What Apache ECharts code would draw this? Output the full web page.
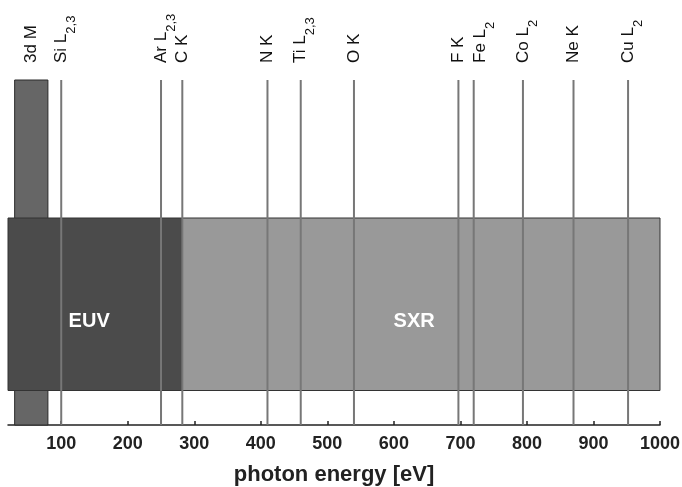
<!DOCTYPE html>
<html>
<head>
<meta charset="utf-8">
<script src="https://cdn.jsdelivr.net/npm/echarts@6/dist/echarts.min.js"></script>
<style>
html,body{margin:0;padding:0;background:#fff;}
#chart{width:682px;height:487px;}
</style>
</head>
<body>
<div id="chart"></div>
<script>
// ---- data ----
const energyMin = 20;
const energyMax = 1000;
const tickValues = [100, 200, 300, 400, 500, 600, 700, 800, 900, 1000];

const edgeNames    = ['Si L', 'Ar L', 'C K', 'N K', 'Ti L', 'O K', 'F K', 'Fe L', 'Co L', 'Ne K', 'Cu L'];
const edgeSubs     = ['2,3',  '2,3',  '',    '',    '2,3',  '',    '',    '2',    '2',    '',     '2'];
const edgeEnergies = [100,    250,    282,   410,   460,    540,   697,   720,    794,    870,    952];

const bandName  = '3d M';
const bandStart = 30;
const bandEnd   = 80;

const regionNames  = ['EUV', 'SXR'];
const regionStarts = [20, 282];
const regionEnds   = [282, 1000];

// ---- styles / layout ----
const FONT = "'Liberation Sans', Arial, Helvetica, sans-serif";
const LINE_TOP = 100, LINE_BOTTOM = 0;
const BOX_TOP = 60, BOX_BOTTOM = 10, REGION_TEXT_Y = 30;
const regionColors = ['#4b4b4b', '#999999'];
const regionTextShift = [-6, -7];
const labelNudge = { 'Fe L': 7 };

const richStyles = {
  a: { fontSize: 17, fontFamily: FONT, fill: '#111', lineHeight: 17, verticalAlign: 'top' },
  s: { fontSize: 13, fontFamily: FONT, fill: '#111', lineHeight: 13, verticalAlign: 'top', padding: [12, 0, 0, 0] }
};

function labelText(name, sub) {
  return sub ? '{a|' + name + '}{s|' + sub + '}' : '{a|' + name + '}';
}

const chart = echarts.init(document.getElementById('chart'));

const option = {
  animation: false,
  grid: { left: 8, right: 22, top: 80, bottom: 62, outerBoundsMode: 'none', containLabel: false },
  xAxis: {
    type: 'value',
    min: energyMin,
    max: energyMax,
    name: 'photon energy [eV]',
    nameLocation: 'middle',
    nameGap: 39,
    nameTextStyle: { fontFamily: FONT, fontWeight: 'bold', fontSize: 22, color: '#222' },
    axisLine: { show: true, lineStyle: { color: '#222', width: 1.5 } },
    axisTick: { show: true, inside: true, length: 4, customValues: tickValues, lineStyle: { color: '#222', width: 1.5 } },
    axisLabel: {
      customValues: tickValues, margin: 10, fontFamily: FONT, fontWeight: 'bold', fontSize: 18, color: '#222',
      formatter: function (v) { return String(v); }
    },
    splitLine: { show: false }
  },
  yAxis: {
    type: 'value', min: 0, max: 100, show: false
  },
  series: [
    {
      // 3d M band
      type: 'custom',
      data: [[bandStart, bandEnd]],
      renderItem: function (params, api) {
        const p0 = api.coord([api.value(0), LINE_TOP]);
        const p1 = api.coord([api.value(1), LINE_BOTTOM]);
        const pc = api.coord([(api.value(0) + api.value(1)) / 2, LINE_TOP]);
        return {
          type: 'group',
          children: [
            {
              type: 'rect',
              shape: { x: p0[0], y: p0[1], width: p1[0] - p0[0], height: p1[1] - p0[1] },
              style: { fill: '#666666', stroke: '#2a2a2a', lineWidth: 1 }
            },
            {
              type: 'text',
              x: pc[0], y: pc[1] - 17,
              rotation: Math.PI / 2,
              style: { text: labelText(bandName, ''), rich: richStyles, align: 'left', verticalAlign: 'middle' }
            }
          ]
        };
      }
    },
    {
      // EUV / SXR regions
      type: 'custom',
      data: regionStarts.map((s, i) => [s, regionEnds[i], i]),
      renderItem: function (params, api) {
        const i = api.value(2);
        const s = api.value(0), e = api.value(1);
        const p0 = api.coord([s, BOX_TOP]);
        const p1 = api.coord([e, BOX_BOTTOM]);
        const pc = api.coord([(s + e) / 2, REGION_TEXT_Y]);
        return {
          type: 'group',
          children: [
            {
              type: 'rect',
              shape: { x: p0[0], y: p0[1], width: p1[0] - p0[0], height: p1[1] - p0[1] },
              style: { fill: regionColors[i], stroke: '#333', lineWidth: 1 }
            },
            {
              type: 'text',
              x: pc[0] + regionTextShift[i], y: pc[1],
              style: {
                text: regionNames[i], fill: '#fff', fontFamily: FONT, fontWeight: 'bold', fontSize: 20,
                align: 'center', verticalAlign: 'middle'
              }
            }
          ]
        };
      }
    },
    {
      // edge lines
      type: 'custom',
      data: edgeEnergies.map((e, i) => [e, i]),
      renderItem: function (params, api) {
        const e = api.value(0);
        const pt = api.coord([e, LINE_TOP]);
        const pb = api.coord([e, LINE_BOTTOM]);
        return {
          type: 'line',
          shape: { x1: pt[0], y1: pt[1], x2: pb[0], y2: pb[1] },
          style: { stroke: '#777777', lineWidth: 2 }
        };
      }
    },
    {
      // edge labels
      type: 'custom',
      data: edgeEnergies.map((e, i) => [e, i]),
      renderItem: function (params, api) {
        const e = api.value(0);
        const i = api.value(1);
        const pt = api.coord([e, LINE_TOP]);
        const nudge = labelNudge[edgeNames[i]] || 0;
        return {
          type: 'text',
          x: pt[0] + nudge, y: pt[1] - 17,
          rotation: Math.PI / 2,
          style: { text: labelText(edgeNames[i], edgeSubs[i]), rich: richStyles, align: 'left', verticalAlign: 'middle' }
        };
      }
    }
  ]
};

chart.setOption(option);
</script>
</body>
</html>
